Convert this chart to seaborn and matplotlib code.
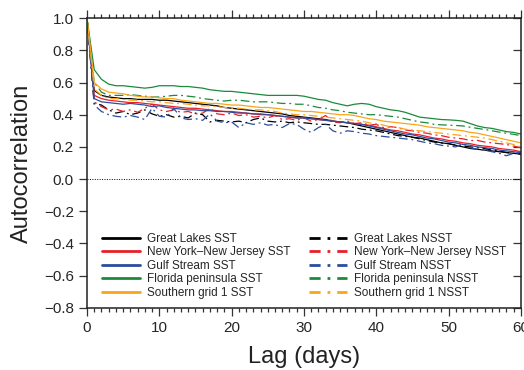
#!/usr/bin/env python3
# coding=utf-8
from matplotlib import pyplot as plt
from matplotlib.lines import Line2D
from matplotlib.ticker import MultipleLocator
import pandas as pd
import seaborn as sns

lags = list(range(61))

regions = ["Great Lakes", "New York\u2013New Jersey", "Gulf Stream",
           "Florida peninsula", "Southern grid 1"]
colors = ["#000000", "#e8202a", "#2d4c9e", "#1b8a3c", "#f9a51c"]

great_lakes_sst = [
    1.0, 0.55, 0.52, 0.51, 0.505, 0.5, 0.5, 0.495, 0.495, 0.495,
    0.49, 0.49, 0.485, 0.48, 0.475, 0.47, 0.465, 0.46, 0.455, 0.445,
    0.44, 0.435, 0.43, 0.425, 0.42, 0.415, 0.41, 0.405, 0.395, 0.39,
    0.385, 0.38, 0.375, 0.37, 0.36, 0.355, 0.35, 0.34, 0.33, 0.32,
    0.31, 0.30, 0.29, 0.28, 0.27, 0.26, 0.255, 0.245, 0.235, 0.225,
    0.22, 0.21, 0.2, 0.19, 0.185, 0.18, 0.175, 0.17, 0.165, 0.16, 0.155]
nyc_nj_sst = [
    1.0, 0.52, 0.5, 0.49, 0.485, 0.48, 0.475, 0.475, 0.47, 0.465,
    0.46, 0.455, 0.45, 0.445, 0.44, 0.44, 0.435, 0.43, 0.425, 0.42,
    0.42, 0.415, 0.41, 0.405, 0.40, 0.40, 0.395, 0.39, 0.385, 0.38,
    0.38, 0.375, 0.37, 0.365, 0.36, 0.355, 0.35, 0.345, 0.34, 0.335,
    0.325, 0.315, 0.305, 0.30, 0.29, 0.28, 0.275, 0.265, 0.255, 0.25,
    0.24, 0.235, 0.225, 0.22, 0.21, 0.205, 0.2, 0.19, 0.185, 0.18, 0.17]
gulf_stream_sst = [
    1.0, 0.5, 0.48, 0.475, 0.47, 0.465, 0.47, 0.465, 0.46, 0.45,
    0.455, 0.445, 0.44, 0.435, 0.43, 0.43, 0.425, 0.425, 0.42, 0.42,
    0.415, 0.41, 0.41, 0.405, 0.405, 0.40, 0.395, 0.39, 0.385, 0.38,
    0.38, 0.375, 0.37, 0.365, 0.36, 0.355, 0.35, 0.345, 0.34, 0.33,
    0.32, 0.31, 0.30, 0.29, 0.28, 0.275, 0.265, 0.255, 0.25, 0.24,
    0.23, 0.225, 0.215, 0.21, 0.2, 0.195, 0.19, 0.18, 0.175, 0.17, 0.165]
florida_sst = [
    1.0, 0.68, 0.62, 0.59, 0.58, 0.58, 0.575, 0.57, 0.565, 0.57,
    0.58, 0.58, 0.58, 0.575, 0.575, 0.57, 0.565, 0.555, 0.55, 0.545,
    0.545, 0.54, 0.535, 0.53, 0.525, 0.52, 0.52, 0.52, 0.52, 0.52,
    0.515, 0.505, 0.495, 0.49, 0.475, 0.465, 0.455, 0.465, 0.47, 0.465,
    0.45, 0.44, 0.43, 0.425, 0.415, 0.40, 0.385, 0.38, 0.375, 0.37,
    0.368, 0.365, 0.36, 0.345, 0.33, 0.32, 0.315, 0.305, 0.295, 0.29, 0.28]
southern_sst = [
    1.0, 0.6, 0.56, 0.54, 0.535, 0.53, 0.52, 0.515, 0.51, 0.51,
    0.505, 0.5, 0.5, 0.49, 0.485, 0.48, 0.475, 0.47, 0.47, 0.465,
    0.46, 0.46, 0.455, 0.45, 0.445, 0.445, 0.44, 0.435, 0.43, 0.425,
    0.42, 0.42, 0.415, 0.41, 0.405, 0.40, 0.40, 0.395, 0.385, 0.375,
    0.37, 0.36, 0.355, 0.35, 0.345, 0.34, 0.335, 0.325, 0.32, 0.315,
    0.31, 0.305, 0.3, 0.29, 0.285, 0.275, 0.265, 0.255, 0.245, 0.235, 0.225]

great_lakes_nsst = [
    1.0, 0.47, 0.46, 0.43, 0.41, 0.42, 0.40, 0.41, 0.43, 0.405,
    0.39, 0.40, 0.385, 0.39, 0.38, 0.41, 0.40, 0.355, 0.365, 0.36,
    0.355, 0.36, 0.35, 0.37, 0.38, 0.36, 0.355, 0.36, 0.35, 0.355,
    0.35, 0.345, 0.34, 0.34, 0.335, 0.33, 0.325, 0.32, 0.31, 0.305,
    0.30, 0.29, 0.28, 0.27, 0.265, 0.26, 0.25, 0.24, 0.23, 0.225,
    0.22, 0.21, 0.205, 0.20, 0.195, 0.19, 0.18, 0.175, 0.165, 0.16, 0.155]
nyc_nj_nsst = [
    1.0, 0.48, 0.45, 0.43, 0.435, 0.42, 0.43, 0.415, 0.44, 0.465,
    0.43, 0.42, 0.43, 0.415, 0.42, 0.405, 0.41, 0.44, 0.405, 0.40,
    0.41, 0.395, 0.40, 0.385, 0.39, 0.38, 0.395, 0.37, 0.375, 0.365,
    0.38, 0.36, 0.37, 0.395, 0.355, 0.35, 0.36, 0.345, 0.35, 0.335,
    0.34, 0.32, 0.325, 0.32, 0.305, 0.30, 0.29, 0.285, 0.275, 0.27,
    0.26, 0.255, 0.25, 0.24, 0.24, 0.23, 0.225, 0.22, 0.215, 0.205, 0.195]
gulf_stream_nsst = [
    1.0, 0.46, 0.42, 0.40, 0.39, 0.385, 0.395, 0.385, 0.37, 0.44,
    0.39, 0.385, 0.44, 0.38, 0.37, 0.375, 0.365, 0.405, 0.36, 0.35,
    0.355, 0.32, 0.35, 0.34, 0.35, 0.335, 0.34, 0.32, 0.345, 0.34,
    0.31, 0.29, 0.32, 0.34, 0.30, 0.285, 0.30, 0.295, 0.285, 0.28,
    0.27, 0.265, 0.26, 0.255, 0.25, 0.245, 0.235, 0.225, 0.22, 0.21,
    0.205, 0.20, 0.22, 0.195, 0.185, 0.18, 0.17, 0.16, 0.145, 0.16, 0.165]
florida_nsst = [
    1.0, 0.6, 0.54, 0.52, 0.52, 0.52, 0.525, 0.52, 0.515, 0.51,
    0.51, 0.515, 0.52, 0.52, 0.515, 0.51, 0.5, 0.495, 0.49, 0.485,
    0.49, 0.49, 0.485, 0.48, 0.48, 0.48, 0.475, 0.47, 0.47, 0.465,
    0.465, 0.455, 0.445, 0.44, 0.43, 0.425, 0.415, 0.41, 0.405, 0.40,
    0.40, 0.395, 0.39, 0.385, 0.375, 0.365, 0.355, 0.35, 0.34, 0.337,
    0.335, 0.333, 0.33, 0.322, 0.315, 0.308, 0.30, 0.292, 0.285, 0.278, 0.27]
southern_nsst = [
    1.0, 0.56, 0.52, 0.5, 0.5, 0.495, 0.49, 0.49, 0.485, 0.48,
    0.48, 0.475, 0.47, 0.47, 0.465, 0.46, 0.455, 0.455, 0.45, 0.445,
    0.44, 0.44, 0.435, 0.43, 0.43, 0.425, 0.42, 0.41, 0.405, 0.40,
    0.40, 0.395, 0.39, 0.385, 0.38, 0.375, 0.37, 0.365, 0.36, 0.35,
    0.345, 0.335, 0.325, 0.32, 0.31, 0.305, 0.30, 0.295, 0.29, 0.285,
    0.28, 0.275, 0.27, 0.265, 0.26, 0.255, 0.245, 0.235, 0.225, 0.215, 0.20]

sst_series = [great_lakes_sst, nyc_nj_sst, gulf_stream_sst, florida_sst, southern_sst]
nsst_series = [great_lakes_nsst, nyc_nj_nsst, gulf_stream_nsst, florida_nsst, southern_nsst]

NSST_DASH = (7, 3, 1.5, 3)


def build_df():
    rows = []
    for name, sst, nsst in zip(regions, sst_series, nsst_series):
        for lag, v in zip(lags, sst):
            rows.append({'lag': lag, 'acf': v, 'region': name, 'kind': 'SST'})
        for lag, v in zip(lags, nsst):
            rows.append({'lag': lag, 'acf': v, 'region': name, 'kind': 'NSST'})
    return pd.DataFrame(rows)


def plot(df, fig_location='out.png'):
    sns.set_style('ticks')
    plt.rcParams['font.family'] = ['Liberation Sans', 'DejaVu Sans']

    fig = plt.figure(figsize=(5.24, 3.70), dpi=100)
    ax = fig.add_axes([0.166, 0.168, 0.828, 0.783])

    sns.lineplot(data=df, x='lag', y='acf', hue='region', style='kind',
                 hue_order=regions, palette=colors,
                 style_order=['SST', 'NSST'],
                 dashes={'SST': '', 'NSST': NSST_DASH},
                 linewidth=0.9, errorbar=None, legend=False, ax=ax)

    ax.axhline(0, color='black', lw=0.7, ls=(0, (1, 1.5)))

    ax.set_xlim(0, 60)
    ax.set_ylim(-0.8, 1.0)
    ax.xaxis.set_major_locator(MultipleLocator(10))
    ax.xaxis.set_minor_locator(MultipleLocator(1))
    ax.yaxis.set_major_locator(MultipleLocator(0.2))
    ax.yaxis.set_major_formatter(lambda v, p: f'{v:.1f}'.replace('-', '\u2212'))

    ax.tick_params(axis='x', which='both', top=True, direction='out', labelsize=11,
                   width=0.9, color='#333333')
    ax.tick_params(axis='x', which='major', length=6)
    ax.tick_params(axis='x', which='minor', length=3)
    ax.tick_params(axis='y', which='major', left=True, right=True, length=6,
                   direction='out', labelsize=11, width=0.9, color='#333333')
    # top ticks point upward, right ticks point inward
    for t in ax.xaxis.get_major_ticks() + ax.xaxis.get_minor_ticks():
        t.tick2line.set_marker(2)
    for t in ax.yaxis.get_major_ticks():
        t.tick2line.set_marker(0)

    for s in ax.spines.values():
        s.set_linewidth(1.1)
        s.set_color('#222222')

    ax.set_xlabel('Lag (days)', fontsize=17, color='#222222', labelpad=8)
    ax.set_ylabel('Autocorrelation', fontsize=17, color='#222222', labelpad=8)

    handles = [Line2D([], [], color=c, lw=2) for c in colors]
    handles += [Line2D([], [], color=c, lw=2, ls=(0, (4, 2.5, 1, 2.5)))
                for c in colors]
    labels = [f'{r} SST' for r in regions] + [f'{r} NSST' for r in regions]
    ax.legend(handles, labels, ncol=2, loc='lower left',
              bbox_to_anchor=(0.01, -0.005), frameon=False, fontsize=8.5,
              handlelength=3.2, handletextpad=0.6, columnspacing=1.6,
              labelspacing=0.12)

    if fig_location:
        fig.savefig(fig_location, dpi=100)


if __name__ == "__main__":
    plot(build_df())
